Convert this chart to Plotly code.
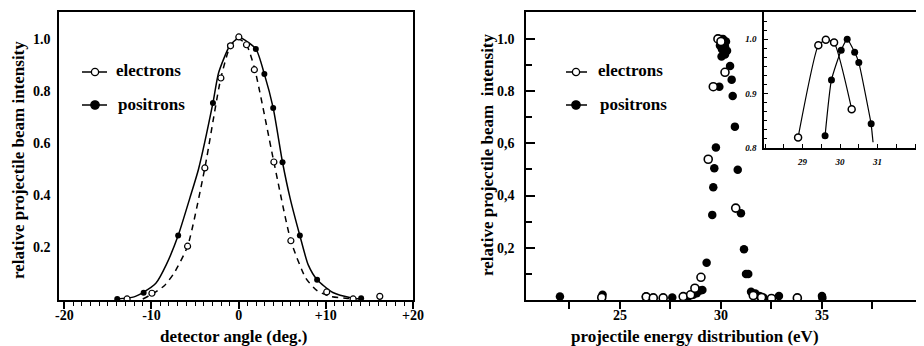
import plotly.graph_objects as go

# ---------------- left panel: detector angle scan ----------------
ang_e_x = [-12.8, -9.95, -5.86, -3.88, -2.04, -0.93, 0.02, 0.9, 1.8, 4.04, 5.99, 10.1, 13.13, 16.19]
ang_e_y = [0.0, 0.022, 0.203, 0.504, 0.85, 0.974, 1.008, 0.978, 0.882, 0.527, 0.224, 0.027, 0.0, 0.01]
ang_p_x = [-13.93, -10.9, -6.94, -2.95, -1.0, 1.97, 2.95, 3.96, 5.03, 7.02, 9.0, 14.05]
ang_p_y = [0.0, 0.024, 0.244, 0.754, 0.974, 0.962, 0.865, 0.735, 0.526, 0.244, 0.074, 0.003]

# fitted curves
fit_p_x = [-14.0, -12.0, -10.9, -9.5, -8.3, -6.94, -5.6, -4.6, -2.95, -2.3, -1.0, 0.1, 1.97, 2.95, 3.96, 5.03, 5.9, 7.02, 7.97, 9.0, 10.8, 13.0, 14.0]
fit_p_y = [0.0, 0.008, 0.026, 0.06, 0.132, 0.244, 0.388, 0.5, 0.754, 0.87, 0.975, 1.005, 0.962, 0.865, 0.735, 0.526, 0.388, 0.244, 0.132, 0.074, 0.025, 0.004, 0.0]
fit_e_x = [-11.0, -9.6, -8.5, -7.4, -5.86, -3.88, -2.04, -0.93, 0.0, 0.9, 1.86, 4.04, 5.99, 7.7, 9.0, 10.5, 12.5, 13.2]
fit_e_y = [0.0, 0.025, 0.052, 0.1, 0.203, 0.504, 0.85, 0.974, 1.0, 0.978, 0.882, 0.527, 0.224, 0.08, 0.032, 0.01, 0.002, 0.0]

ang_xticks = [-20, -10, 0, 10, 20]
ang_xtext = ["-20", "-10", "0", "+10", "+20"]
int_ticks = [0.2, 0.4, 0.6, 0.8, 1.0]
left_ytext = ["0.2", "0.4", "0.6", "0.8", "1.0"]

# ---------------- right panel: energy distribution ----------------
en_e_x = [24.1, 26.3, 26.65, 27.14, 28.13, 28.5, 28.71, 29.01, 29.37, 29.62, 29.85, 30.0, 30.2, 30.73, 31.6, 32.01, 32.5, 33.78]
en_e_y = [0.01, 0.012, 0.008, 0.008, 0.013, 0.02, 0.045, 0.087, 0.539, 0.817, 1.0, 0.99, 0.872, 0.352, 0.017, 0.01, 0.006, 0.008]
en_p_x = [22.03, 24.14, 26.29, 27.59, 28.38, 28.63, 28.8, 28.97, 29.08, 29.29, 29.57, 29.62, 29.67, 29.75,
          29.92, 29.9, 30.0, 30.1, 30.25, 29.95, 30.2, 30.05, 30.3, 30.2, 30.03, 30.45, 30.53, 30.58, 30.69,
          30.83, 30.99, 31.14, 31.24, 31.35, 31.49, 31.7, 31.9, 32.1, 32.87, 35.0, 35.02]
en_p_y = [0.013, 0.02, 0.013, 0.01, 0.013, 0.02, 0.026, 0.036, 0.038, 0.143, 0.326, 0.432, 0.505, 0.584,
          0.817, 1.0, 1.0, 1.0, 0.99, 0.975, 0.97, 0.96, 0.955, 0.94, 0.933, 0.896, 0.844, 0.781, 0.664,
          0.499, 0.332, 0.194, 0.1, 0.1, 0.032, 0.025, 0.015, 0.01, 0.015, 0.015, 0.008]
en_xticks = [25, 30, 35]
right_ytext = ["0,2", "0,4", "0,6", "0.8", "1.0"]

# ---------------- inset ----------------
in_e_x = [28.88, 29.42, 29.62, 29.84, 30.31]
in_e_y = [0.819, 0.989, 0.999, 0.994, 0.871]
in_p_x = [29.6, 29.77, 30.03, 30.19, 30.39, 30.5, 30.83]
in_p_y = [0.822, 0.925, 0.980, 1.0, 0.976, 0.957, 0.844]
in_p_tail_x = [30.83, 30.88]
in_p_tail_y = [0.844, 0.81]
in_xticks = [29, 30, 31]
in_yticks = [0.8, 0.9, 1.0]

# the page body adds an 8px margin, so the figure is drawn 8px in from the window corner
OFF = 8
W, H = 924 - OFF, 346 - OFF
FONT = "Liberation Serif"
BLK = "black"


def fx(p):
    return (p - OFF) / W


def fy(p):
    return 1 - (p - OFF) / H


fig = go.Figure()

# left panel
fig.add_trace(go.Scatter(x=fit_p_x, y=fit_p_y, mode="lines", xaxis="x", yaxis="y",
                         line=dict(color=BLK, width=1.5, shape="spline", smoothing=0.6)))
fig.add_trace(go.Scatter(x=fit_e_x, y=fit_e_y, mode="lines", xaxis="x", yaxis="y",
                         line=dict(color=BLK, width=1.5, dash="6px,5px", shape="spline", smoothing=0.6)))
fig.add_trace(go.Scatter(x=ang_p_x, y=ang_p_y, mode="markers", xaxis="x", yaxis="y",
                         marker=dict(size=6, color=BLK, line=dict(width=0))))
fig.add_trace(go.Scatter(x=ang_e_x, y=ang_e_y, mode="markers", xaxis="x", yaxis="y",
                         marker=dict(size=6, color="white", line=dict(width=1.2, color=BLK))))

# right panel
fig.add_trace(go.Scatter(x=en_p_x, y=en_p_y, mode="markers", xaxis="x2", yaxis="y2",
                         marker=dict(size=8.5, color=BLK, line=dict(width=0))))
fig.add_trace(go.Scatter(x=en_e_x, y=en_e_y, mode="markers", xaxis="x2", yaxis="y2",
                         marker=dict(size=8, color="white", line=dict(width=1.6, color=BLK))))

# inset
fig.add_trace(go.Scatter(x=in_e_x, y=in_e_y, mode="lines+markers", xaxis="x3", yaxis="y3",
                         line=dict(color=BLK, width=1.2, shape="spline", smoothing=0.5),
                         marker=dict(size=7, color="white", line=dict(width=1.5, color=BLK))))
fig.add_trace(go.Scatter(x=in_p_tail_x, y=in_p_tail_y, mode="lines", xaxis="x3", yaxis="y3",
                         line=dict(color=BLK, width=1.2)))
fig.add_trace(go.Scatter(x=in_p_x, y=in_p_y, mode="lines+markers", xaxis="x3", yaxis="y3",
                         line=dict(color=BLK, width=1.2, shape="spline", smoothing=0.5),
                         marker=dict(size=7, color=BLK, line=dict(width=0))))

tickfont = dict(family=FONT, size=14, color=BLK, weight="bold")
infont = dict(family=FONT, size=9, color=BLK, weight="bold", style="italic")

common = dict(showgrid=False, zeroline=False, linecolor=BLK, linewidth=1.5, tickcolor=BLK,
              showline=True, automargin=False)

fig.update_layout(
    template="none",
    width=W, height=H, margin=dict(l=0, r=0, t=0, b=0, pad=0),
    paper_bgcolor="white", plot_bgcolor="rgba(0,0,0,0)", showlegend=False,
    xaxis=dict(domain=[fx(59), fx(413)], range=[-20.61, 20], anchor="y", mirror=True,
               tickmode="array", tickvals=ang_xticks, ticktext=ang_xtext, ticks="outside",
               ticklen=7, tickwidth=1.5, tickfont=tickfont, ticklabelstandoff=-6,
               minor=dict(tickmode="linear", tick0=0, dtick=1, ticks="outside", ticklen=4,
                          tickwidth=1, tickcolor=BLK), **common),
    yaxis=dict(domain=[fy(300), fy(12)], range=[-0.004, 1.104], anchor="x", mirror=True,
               tickmode="array", tickvals=int_ticks, ticktext=left_ytext, ticks="",
               ticklabelstandoff=4, tickfont=tickfont, **common),
    xaxis2=dict(domain=[fx(526), 1.0], range=[20.35, 40.05], anchor="y2", mirror=True,
                tickmode="array", tickvals=en_xticks, ticks="outside", ticklen=7, tickwidth=1.5,
                tickfont=tickfont, ticklabelstandoff=-6,
                minor=dict(tickmode="linear", tick0=22.5, dtick=5, ticks="outside", ticklen=7,
                           tickwidth=1.5, tickcolor=BLK), **common),
    yaxis2=dict(domain=[fy(300), fy(12)], range=[0, 1.103], anchor="x2",
                tickmode="array", tickvals=int_ticks, ticktext=right_ytext, ticks="inside",
                ticklen=9, tickwidth=1.5, ticklabelstandoff=7, tickfont=tickfont,
                minor=dict(tickmode="linear", tick0=0.1, dtick=0.2, ticks="inside", ticklen=6,
                           tickwidth=1.5, tickcolor=BLK), **common),
    xaxis3=dict(domain=[fx(764), 1.0], range=[27.97, 32.24], anchor="y3",
                tickmode="array", tickvals=in_xticks, ticks="inside", ticklen=4, tickwidth=1,
                ticklabelstandoff=5, tickfont=infont,
                minor=dict(tickmode="linear", tick0=28.5, dtick=0.5, ticks="inside", ticklen=4,
                           tickwidth=1, tickcolor=BLK), **common),
    yaxis3=dict(domain=[fy(147.7), fy(12)], range=[0.8, 1.0504], anchor="x3",
                tickmode="array", tickvals=in_yticks, ticktext=["0.8", "0.9", "1.0"],
                ticks="inside", ticklen=4, tickwidth=1, ticklabelstandoff=4, tickfont=infont,
                minor=dict(tickmode="linear", tick0=0.8, dtick=0.1 / 6, ticks="inside", ticklen=3,
                           tickwidth=1, tickcolor=BLK), **common),
)

# inset background
fig.add_shape(type="rect", xref="x3 domain", yref="y3 domain", x0=0, x1=1, y0=0, y1=1,
              fillcolor="white", line=dict(width=0), layer="below")

titlefont = dict(family=FONT, size=17, color=BLK, weight="bold")
annos = [
    dict(text="detector angle (deg.)", x=fx(233), y=fy(336)),
    dict(text="projectile energy distribution (eV)", x=fx(695), y=fy(336)),
    dict(text="relative projectile beam intensity", x=fx(18), y=fy(160), textangle=-90),
    dict(text="relative projectile beam  intensity", x=fx(487), y=fy(155), textangle=-90),
]
for a in annos:
    fig.add_annotation(xref="paper", yref="paper", showarrow=False, font=titlefont,
                       xanchor="center", yanchor="middle", **a)

# legends
legfont = dict(family=FONT, size=17, color=BLK, weight="bold")
legends = [
    # (line x0, line x1, marker x, y, text x, text, filled)
    (82, 107, 95, 72, 114, "electrons", False),
    (82, 107, 95, 105, 116, "positrons", True),
    (566, 587, 576, 72, 596, "electrons", False),
    (566, 587, 576, 105, 598, "positrons", True),
]
for x0, x1, xm, yy, xt, label, filled in legends:
    fig.add_shape(type="line", xref="paper", yref="paper", x0=fx(x0), x1=fx(x1), y0=fy(yy), y1=fy(yy),
                  line=dict(color=BLK, width=1.5))
    r = 4.2 if filled else 3.6
    fig.add_shape(type="circle", xref="paper", yref="paper", xsizemode="pixel", ysizemode="pixel",
                  xanchor=fx(xm), yanchor=fy(yy), x0=-r, x1=r, y0=-r, y1=r,
                  fillcolor=BLK if filled else "white", line=dict(color=BLK, width=1.3))
    fig.add_annotation(xref="paper", yref="paper", x=fx(xt), y=fy(yy - 1), text=label, showarrow=False,
                       xanchor="left", yanchor="middle", font=legfont)

fig.write_html("out.html")
